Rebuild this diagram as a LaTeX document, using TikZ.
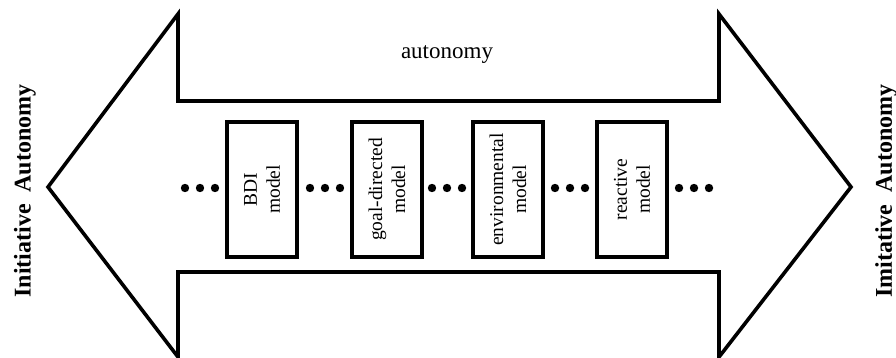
\documentclass[tikz,border=0pt]{standalone}
\usepackage{fontspec}
\setmainfont{Liberation Serif}
\begin{document}
\begin{tikzpicture}[x=1pt,y=-1pt,
  outline/.style={draw=black,line width=3.6pt,line join=miter},
  modelbox/.style={draw=black,line width=3.2pt,rotate=90,minimum width=135pt,
    minimum height=70pt,inner sep=0pt,align=center,
    font=\fontsize{19.5}{23}\selectfont},
  sidelabel/.style={rotate=90,inner sep=0pt,font=\fontsize{24}{28}\selectfont\bfseries},
  dotmark/.style={fill=black,draw=none}]
\useasboundingbox (0,0) rectangle (896,358);
% double-headed arrow outline
\draw[outline] (48,187) -- (178,14) -- (178,101) -- (719,101) -- (719,14)
  -- (851,187) -- (719,357) -- (719,272) -- (178,272) -- (178,357) -- cycle;
\node (auto) at (447,55) {\fontsize{23}{27}\selectfont autonomy};
% model boxes
\node[modelbox] (bdi)  at (262,189.5) {BDI\\model};
\node[modelbox] (goal) at (387,189.5) {goal-directed\\model};
\node[modelbox] (env)  at (508,189.5) {environmental\\model};
\node[modelbox] (reac) at (632,189.5) {reactive\\model};
% ellipsis dots between the boxes
\foreach \cx in {200,325,447,570,694}{
  \foreach \dx in {-15,0,15}{
    \fill[dotmark] (\cx+\dx,188) circle (4.2pt);
  }
}
% side labels
\node[sidelabel] (left)  at (25,191) {Initiative\ \ Autonomy};
\node[sidelabel] (right) at (886,191) {Imitative\ \ Autonomy};
\end{tikzpicture}
\end{document}
